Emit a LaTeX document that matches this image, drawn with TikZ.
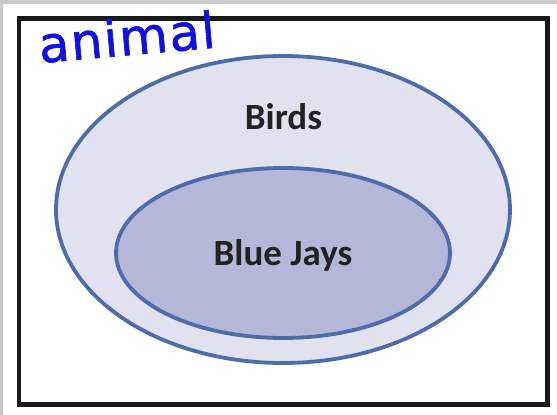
\documentclass[tikz,border=0pt]{standalone}
\usepackage{fontspec}
\usetikzlibrary{shapes.geometric}
\newfontfamily\labelfont{Carlito}
\newfontfamily\handfont{DejaVu Sans}[LetterSpace=3,FakeBold=1.2]
\definecolor{setfillout}{HTML}{E1E1EF}
\definecolor{setfillin}{HTML}{B5B7D8}
\definecolor{setline}{HTML}{4D6CAB}
\definecolor{labeltext}{HTML}{222222}
\definecolor{handblue}{HTML}{1010E0}
\definecolor{checkgray}{HTML}{C9C9C9}
\begin{document}
\begin{tikzpicture}[x=1pt,y=-1pt,
  setshape/.style={ellipse, draw=setline, line width=3.8pt, inner sep=0pt},
  setlabel/.style={font=\labelfont\bfseries\fontsize{37}{40}\selectfont, text=labeltext, anchor=base},
  handlabel/.style={font=\handfont\fontsize{50}{52}\selectfont, text=handblue, anchor=base west, inner sep=0pt, rotate=5}]
\useasboundingbox (0,0) rectangle (557,415);
\fill[white] (0,0) rectangle (557,415);
\fill[checkgray] (0,0) rectangle (557,4);
\fill[checkgray] (0,0) rectangle (3,415);
\draw[black!90, line width=4.5pt] (19,18.5) rectangle (547.5,404.5);
\node[setshape, fill=setfillout, minimum width=454pt, minimum height=307pt] (birds) at (283,209.5) {};
\node[setshape, fill=setfillin, minimum width=334pt, minimum height=170pt] (jays) at (283,253) {};
\node[setlabel] (birdslabel) at (283.5,129) {Birds};
\node[setlabel] (jayslabel) at (283,265) {Blue Jays};
\node[handlabel] (animal) at (40,63) {animal};
\end{tikzpicture}
\end{document}
